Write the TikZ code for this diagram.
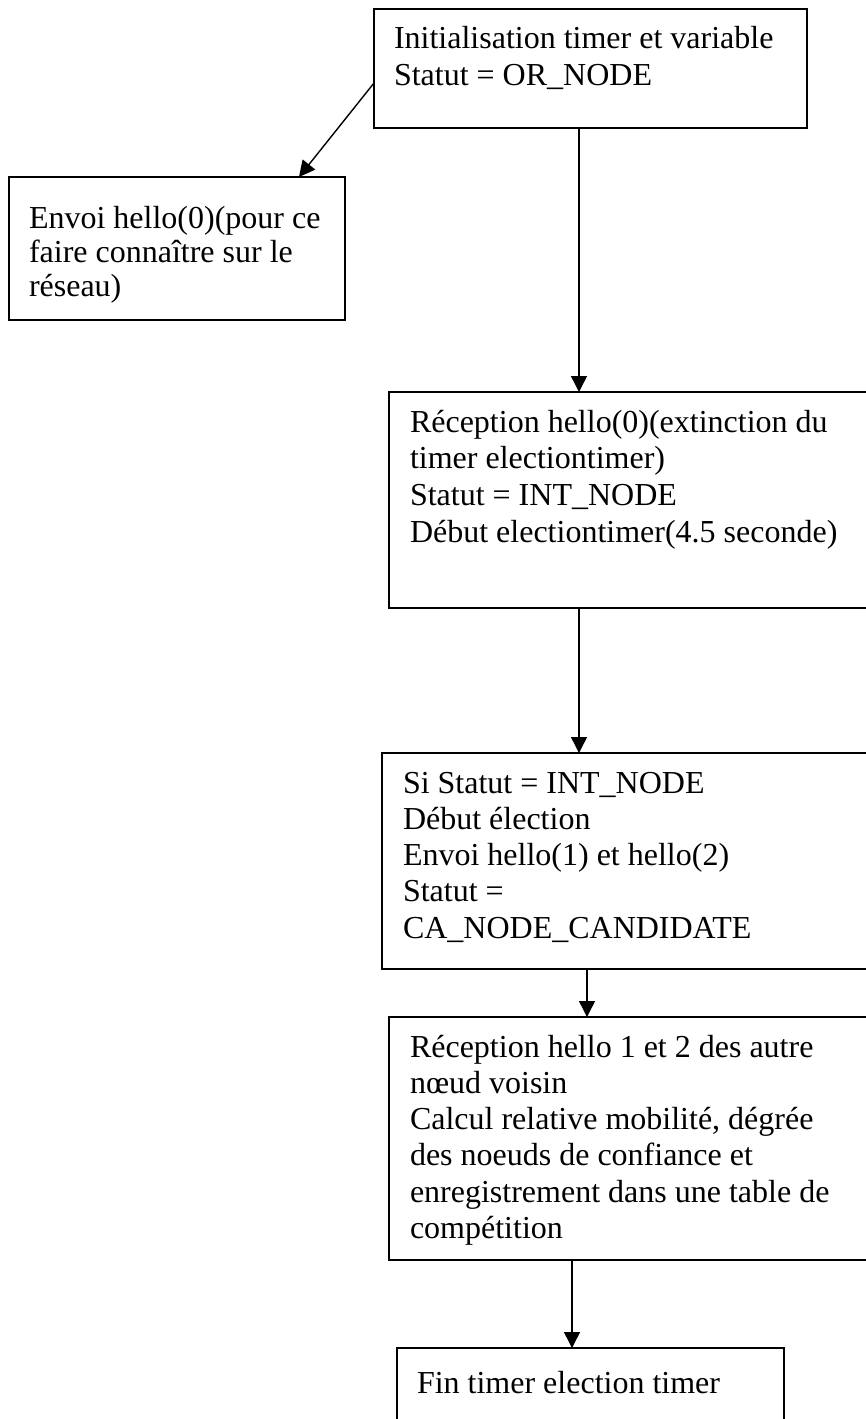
\documentclass[tikz,border=0pt]{standalone}
\usepackage{fontspec}
\setmainfont{Liberation Serif}
\usetikzlibrary{arrows.meta}
\newcommand{\txtlines}[2]{\vtop{\baselineskip=#1pt\relax\lineskiplimit=0pt\relax #2}}
\begin{document}
\begin{tikzpicture}[x=1pt,y=-1pt,
  box/.style={draw, line width=1.5pt, rectangle, inner sep=0pt, outer sep=0pt, anchor=north west},
  lbl/.style={inner sep=0pt, outer sep=0pt, anchor=base west, font=\fontsize{32}{37}\selectfont},
  arr/.style={line width=1.4pt, -{Triangle[length=16pt,width=16pt]}}]
\useasboundingbox (0,0) rectangle (866,1419);
\clip (0,0) rectangle (866,1419);
% boxes
\node[box, minimum width=433pt, minimum height=119pt] (b1) at (374,9) {};
\node[box, minimum width=336pt, minimum height=143pt] (b2) at (9,177) {};
\node[box, minimum width=480pt, minimum height=216pt] (b3) at (389,392) {};
\node[box, minimum width=490pt, minimum height=216pt] (b4) at (382,753) {};
\node[box, minimum width=480pt, minimum height=243pt] (b5) at (389,1017) {};
\node[box, minimum width=387pt, minimum height=100pt] (b6) at (397,1348) {};
% texts
\node[lbl] (t1) at (394,48) {\txtlines{37.7}{\hbox{Initialisation timer et variable}\hbox{Statut = OR\_NODE}}};
\node[lbl] (t2) at (29,228) {\txtlines{34}{\hbox{Envoi hello(0)(pour ce}\hbox{faire connaître sur le}\hbox{réseau)}}};
\node[lbl] (t3) at (410,432) {\txtlines{36.8}{\hbox{Réception hello(0)(extinction du}\hbox{timer electiontimer)}\hbox{Statut = INT\_NODE}\hbox{Début electiontimer(4.5 seconde)}}};
\node[lbl] (t4) at (403,793) {\txtlines{36.3}{\hbox{Si Statut = INT\_NODE}\hbox{Début élection}\hbox{Envoi hello(1) et hello(2)}\hbox{Statut =}\hbox{CA\_NODE\_CANDIDATE}}};
\node[lbl] (t5) at (410,1057) {\txtlines{36.3}{\hbox{Réception hello 1 et 2 des autre}\hbox{nœud voisin}\hbox{Calcul relative mobilité, dégrée}\hbox{des noeuds de confiance et}\hbox{enregistrement dans une table de}\hbox{compétition}}};
\node[lbl] (t6) at (417,1393) {Fin timer election timer};
% connectors
\coordinate (ca) at (579,0);
\coordinate (cb) at (587,0);
\coordinate (cc) at (572,0);
\draw[arr] ([yshift=45pt]b1.south west) -- ([xshift=-46pt]b2.north east);
\draw[arr] (b1.south -| ca) -- (b3.north -| ca);
\draw[arr] (b3.south -| ca) -- (b4.north -| ca);
\draw[arr] (b4.south -| cb) -- (b5.north -| cb);
\draw[arr] (b5.south -| cc) -- (b6.north -| cc);
\end{tikzpicture}
\end{document}
